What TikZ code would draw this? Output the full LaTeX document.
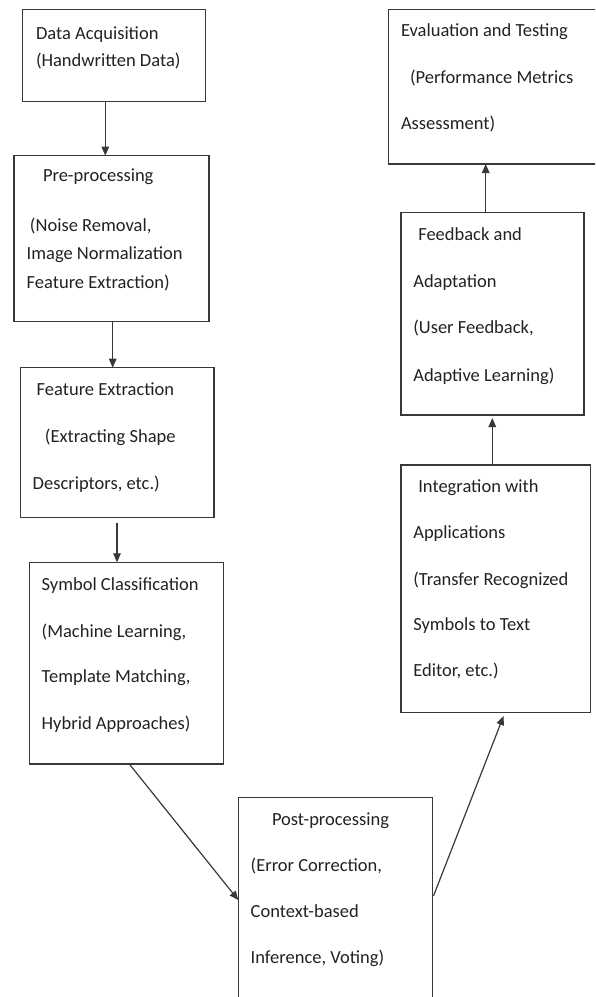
\documentclass[tikz,border=0pt]{standalone}
\usepackage{fontspec}
\setmainfont{Carlito}
\usetikzlibrary{arrows.meta}
\definecolor{linegray}{HTML}{383838}
\definecolor{textgray}{HTML}{222222}
\tikzset{
  box/.style={draw=linegray, line width=1.5pt, rectangle, outer sep=0pt, inner sep=0pt, anchor=north west},
  lbl/.style={anchor=base west, inner sep=0pt, outer sep=0pt, text=textgray, font=\fontsize{18.5}{22}\selectfont},
  arr/.style={draw=linegray, line width=1.2pt, -{Triangle[length=9pt,width=7.5pt]}}
}
\begin{document}
\begin{tikzpicture}[x=1pt, y=-1pt]
\useasboundingbox (0,0) rectangle (595,997);
\clip (0,0) rectangle (595,997);

% process boxes (left column, bottom, right column)
\node[box, minimum width=183pt, minimum height=92.4pt] (b1) at (22.7,9.3) {};
\node[box, minimum width=195pt, minimum height=166pt] (b2) at (14,155.7) {};
\node[box, minimum width=193.3pt, minimum height=150pt] (b3) at (20.7,367.7) {};
\node[box, minimum width=194pt, minimum height=201.7pt] (b4) at (29.3,562.3) {};
\node[box, minimum width=194pt, minimum height=220pt] (b5) at (238.3,797.7) {};
\node[box, minimum width=189.7pt, minimum height=247.3pt] (b6) at (401,465) {};
\node[box, minimum width=183pt, minimum height=202.7pt] (b7) at (401,212.3) {};
\node[box, minimum width=215pt, minimum height=154.7pt] (b8) at (388.3,9.3) {};

% box texts
\node[lbl] (t1a) at (36,39.3) {Data Acquisition};
\node[lbl] (t1b) at (36,66.7) {(Handwritten Data)};

\node[lbl] (t2a) at (43,181.7) {Pre-processing};
\node[lbl] (t2b) at (30,231.7) {(Noise Removal,};
\node[lbl] (t2c) at (26.7,259) {Image Normalization};
\node[lbl] (t2d) at (26.7,288.3) {Feature Extraction)};

\node[lbl] (t3a) at (36.7,395.7) {Feature Extraction};
\node[lbl] (t3b) at (45,442.7) {(Extracting Shape};
\node[lbl] (t3c) at (32.7,489) {Descriptors, etc.)};

\node[lbl] (t4a) at (41.7,590.7) {Symbol Classification};
\node[lbl] (t4b) at (41.7,637) {(Machine Learning,};
\node[lbl] (t4c) at (41.7,682.7) {Template Matching,};
\node[lbl] (t4d) at (41.7,729) {Hybrid Approaches)};

\node[lbl] (t5a) at (272,825.7) {Post-processing};
\node[lbl] (t5b) at (250.7,871.7) {(Error Correction,};
\node[lbl] (t5c) at (250.7,917) {Context-based};
\node[lbl] (t5d) at (250.7,963) {Inference, Voting)};

\node[lbl] (t6a) at (418.3,492) {Integration with};
\node[lbl] (t6b) at (413.3,538) {Applications};
\node[lbl] (t6c) at (413.3,585) {(Transfer Recognized};
\node[lbl] (t6d) at (413.3,630.7) {Symbols to Text};
\node[lbl] (t6e) at (413.3,676.7) {Editor, etc.)};

\node[lbl] (t7a) at (418.3,240.7) {Feedback and};
\node[lbl] (t7b) at (413.3,287.3) {Adaptation};
\node[lbl] (t7c) at (413.3,333.7) {(User Feedback,};
\node[lbl] (t7d) at (413.3,381) {Adaptive Learning)};

\node[lbl] (t8a) at (401,36.7) {Evaluation and Testing};
\node[lbl] (t8b) at (410,83.3) {(Performance Metrics};
\node[lbl] (t8c) at (401,129.3) {Assessment)};

% connectors
\draw[arr] (b1.south -| 105.3,0) -- (b2.north -| 105.3,0);
\draw[arr] (b2.south -| 112.7,0) -- (b3.north -| 112.7,0);
\draw[arr, shorten <=5pt] (b3.south -| 117,0) -- (b4.north -| 117,0);
\draw[arr] (b4.south -| 129.3,0) -- (b5.west |- 0,900);
\draw[arr, shorten <=3.5pt, shorten >=4pt] (b5.east |- 0,899) -- (b6.south -| 505,0);
\draw[arr, shorten >=3pt] (b6.north -| 492.3,0) -- (b7.south -| 492.3,0);
\draw[arr] (b7.north -| 485.7,0) -- (b8.south -| 485.7,0);
\end{tikzpicture}
\end{document}
